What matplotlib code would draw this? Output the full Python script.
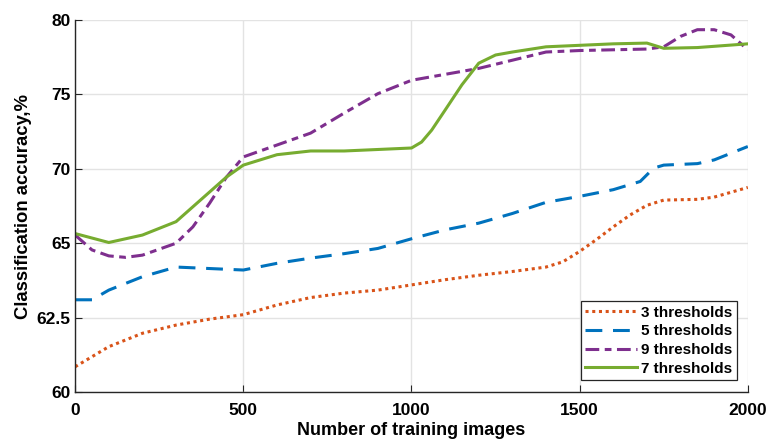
import matplotlib
matplotlib.use("Agg")
import matplotlib.pyplot as plt

# y axis is drawn on an evenly spaced grid of 6 ticks with custom labels
ytick_pos = [0, 1, 2, 3, 4, 5]
ytick_labels = ["60", "62.5", "65", "70", "75", "80"]
xticks = [0, 500, 1000, 1500, 2000]

# --- data (y in grid units) ---
x3 = [0, 100, 200, 300, 400, 500, 600, 700, 800, 900, 1000, 1100, 1200, 1300,
      1400, 1450, 1500, 1550, 1600, 1650, 1700, 1750, 1850, 1900, 2000]
y3 = [0.34, 0.61, 0.79, 0.90, 0.98, 1.04, 1.17, 1.27, 1.33, 1.37, 1.44, 1.51, 1.57, 1.62,
      1.68, 1.75, 1.89, 2.05, 2.22, 2.38, 2.51, 2.58, 2.59, 2.62, 2.75]

x5 = [0, 50, 100, 200, 300, 400, 500, 600, 700, 800, 900, 1000, 1100, 1200,
      1300, 1400, 1500, 1600, 1680, 1720, 1750, 1850, 1900, 2000]
y5 = [1.24, 1.24, 1.37, 1.55, 1.68, 1.66, 1.64, 1.73, 1.80, 1.86, 1.93, 2.06, 2.18, 2.27,
      2.40, 2.55, 2.63, 2.72, 2.83, 3.01, 3.05, 3.07, 3.12, 3.30]

x9 = [0, 50, 100, 150, 200, 300, 350, 400, 450, 500, 600, 700, 800, 900, 1000,
      1100, 1200, 1300, 1400, 1500, 1600, 1700, 1750, 1800, 1850, 1900, 1950, 2000]
y9 = [2.11, 1.91, 1.83, 1.81, 1.84, 2.00, 2.22, 2.54, 2.89, 3.16, 3.32, 3.48, 3.75, 4.01, 4.19,
      4.27, 4.35, 4.46, 4.57, 4.59, 4.60, 4.61, 4.64, 4.78, 4.87, 4.87, 4.80, 4.60]

x7 = [0, 100, 200, 300, 400, 450, 500, 600, 700, 800, 900, 1000, 1030, 1060, 1100,
      1150, 1200, 1250, 1300, 1400, 1500, 1600, 1700, 1750, 1850, 2000]
y7 = [2.13, 2.01, 2.11, 2.29, 2.69, 2.89, 3.05, 3.19, 3.24, 3.24, 3.26, 3.28, 3.36, 3.52, 3.79,
      4.13, 4.42, 4.53, 4.57, 4.64, 4.66, 4.68, 4.69, 4.62, 4.63, 4.68]

plt.rcParams['font.family'] = ['Liberation Sans', 'DejaVu Sans']
plt.rcParams['font.weight'] = 'bold'

fig, ax = plt.subplots(figsize=(7.67, 4.45), dpi=100)
fig.subplots_adjust(left=0.098, right=0.975, bottom=0.119, top=0.955)

lw = 2.2
ax.plot(x3, y3, color='#D95319', lw=lw, linestyle=(0, (1, 1.2)), label='3 thresholds')
ax.plot(x5, y5, color='#0072BD', lw=lw, linestyle=(0, (5.5, 3.5)), label='5 thresholds')
ax.plot(x9, y9, color='#7E2F8E', lw=lw, linestyle=(0, (4.5, 1.8, 2.2, 1.8)), label='9 thresholds')
ax.plot(x7, y7, color='#77AC30', lw=lw, linestyle='-', label='7 thresholds')

ax.set_xlim(0, 2000)
ax.set_ylim(0, 5)
ax.set_xticks(xticks)
ax.set_yticks(ytick_pos)
ax.set_yticklabels(ytick_labels)
ax.tick_params(direction='in', length=5, labelsize=12.5, colors='#262626', labelcolor='black')
ax.tick_params(axis='x', pad=8)
for lab in ax.get_xticklabels() + ax.get_yticklabels():
    lab.set_fontweight('bold')

ax.grid(True, color='#e3e3e3', linewidth=1)
ax.set_axisbelow(True)
for side in ['top', 'right']:
    ax.spines[side].set_visible(False)
for side in ['left', 'bottom']:
    ax.spines[side].set_color('#262626')
    ax.spines[side].set_linewidth(1)

ax.set_xlabel('Number of training images', fontsize=13, fontweight='bold', labelpad=3)
ax.set_ylabel('Classification accuracy,%', fontsize=13.3, fontweight='bold', labelpad=3)

leg = ax.legend(loc='lower right', bbox_to_anchor=(0.984, 0.032), borderaxespad=0,
                fontsize=11, handlelength=3.4, handletextpad=0.27, borderpad=0.3,
                labelspacing=0.3, fancybox=False, framealpha=1, edgecolor='#262626')
leg.get_frame().set_linewidth(0.9)
for t in leg.get_texts():
    t.set_fontweight('bold')

fig.savefig('out.png', dpi=100)
